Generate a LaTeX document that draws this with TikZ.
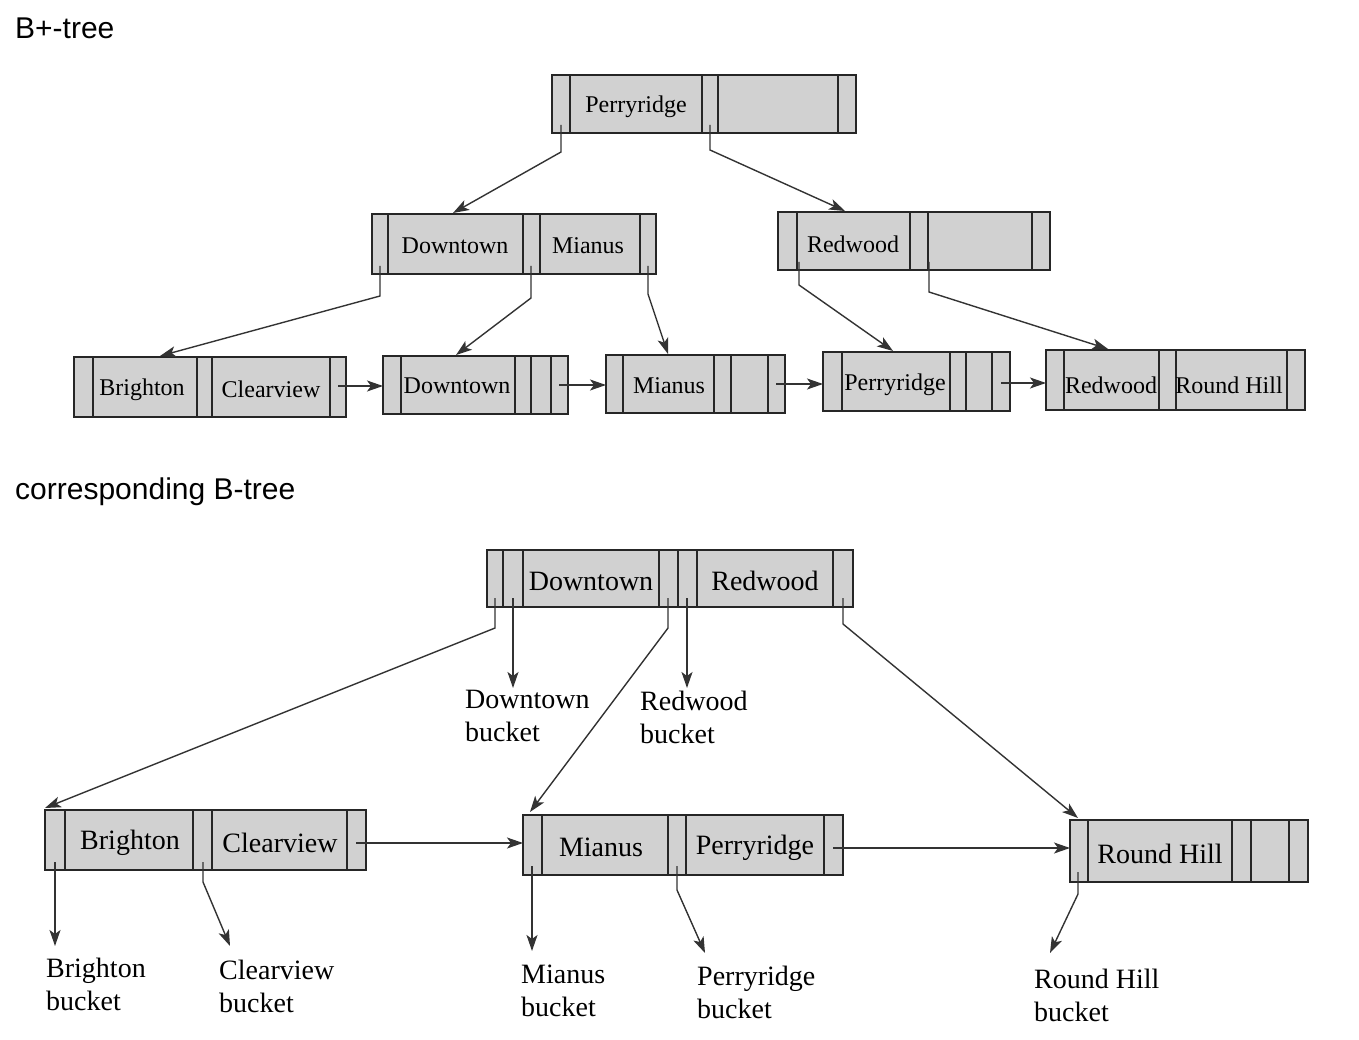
\documentclass[tikz,border=0pt]{standalone}
\usepackage{fontspec}
\setmainfont{Liberation Serif}
\newfontfamily\titlefont{Liberation Sans}
\usetikzlibrary{arrows.meta}
\tikzset{
 boxst/.style={draw=black!85, fill=black!18, line width=1.7pt, inner sep=0pt, outer sep=0pt},
 divst/.style={draw=black!85, line width=1.5pt},
 ptr/.style={draw=black!80, line width=1.4pt, -{Stealth[length=16pt,width=11pt,inset=4pt]}},
 keyB/.style={font=\fontsize{24}{28}\selectfont, inner sep=0pt},
 keyT/.style={font=\fontsize{28}{32}\selectfont, inner sep=0pt},
 lbl/.style={font=\fontsize{28}{33}\selectfont, align=left, anchor=north west, inner sep=0pt},
 ttl/.style={font=\titlefont\fontsize{30}{34}\selectfont, anchor=west, inner sep=0pt},
}
\newcommand\tbox[6]{%
 \node[boxst, anchor=north west, minimum width={(#4-#2)*1pt}, minimum height={(#5-#3)*1pt}] (#1) at (#2,#3) {};
 \foreach \d in {#6} {\draw[divst] (\d,#3) -- (\d,#5);}
}
\begin{document}
\begin{tikzpicture}[x=1pt,y=-1pt]
\useasboundingbox[fill=white] (0,0) rectangle (1359,1040);
% titles
\node[ttl] (t1) at (15,28) {B+-tree};
\node[ttl] (t2) at (15,492) {corresponding B-tree};
% ---------- B+-tree ----------
\tbox{root}{552}{75}{856}{133}{570,702,718,838}
\tbox{la}{372}{214}{656}{274}{388,523,540,640}
\tbox{lb}{778}{212}{1050}{270}{797,910,928,1032}
\tbox{fa}{74}{357}{346}{417}{93,197,212,330}
\tbox{fb}{383}{356}{568}{414}{401,515,531,551}
\tbox{fc}{606}{355}{785}{413}{623,714,731,768}
\tbox{fd}{823}{352}{1010}{411}{842,950,966,992}
\tbox{fe}{1046}{350}{1305}{410}{1064,1159,1176,1287}
\node[keyB] (k1) at (636,107) {Perryridge};
\node[keyB] (k2) at (455,246) {Downtown};
\node[keyB] (k3) at (588,246) {Mianus};
\node[keyB] (k4) at (853,244) {Redwood};
\node[keyB] (k5) at (142,390) {Brighton};
\node[keyB] (k6) at (271,389) {Clearview};
\node[keyB] (k7) at (457,386) {Downtown};
\node[keyB] (k8) at (669,386) {Mianus};
\node[keyB] (k9) at (895,385) {Perryridge};
\node[keyB] (k10) at (1111,385) {Redwood};
\node[keyB] (k11) at (1229,385) {Round Hill};
% pointer sources and targets
\coordinate (rp1) at (561,125); \coordinate (rp2) at (710,125);
\coordinate (lap1) at (380,266); \coordinate (lap2) at (531,266); \coordinate (lap3) at (648,266);
\coordinate (lbp1) at (799,262); \coordinate (lbp2) at (929,262);
\coordinate (laT) at (453,213); \coordinate (lbT) at (845,211);
\coordinate (faT) at (160,356); \coordinate (fbT) at (456,355); \coordinate (fcT) at (668,354);
\coordinate (fdT) at (893,351); \coordinate (feT) at (1108,349);
\coordinate (fap) at (338,386); \coordinate (fbp) at (559,385); \coordinate (fcp) at (776,384); \coordinate (fdp) at (1001,383);
\draw[ptr] (rp1) -- ++(0,27) -- (laT);
\draw[ptr] (rp2) -- ++(0,25) -- (lbT);
\draw[ptr] (lap1) -- ++(0,30) -- (faT);
\draw[ptr] (lap2) -- ++(0,32) -- (fbT);
\draw[ptr] (lap3) -- ++(0,28) -- (fcT);
\draw[ptr] (lbp1) -- ++(0,23) -- (fdT);
\draw[ptr] (lbp2) -- ++(0,30) -- (feT);
\draw[ptr] (fap) -- (fb.west |- fap);
\draw[ptr] (fbp) -- (fc.west |- fbp);
\draw[ptr] (fcp) -- (fd.west |- fcp);
\draw[ptr] (fdp) -- (fe.west |- fdp);
% ---------- B-tree ----------
\tbox{broot}{487}{550}{853}{607}{503,523,659,678,697,833}
\tbox{ba}{45}{810}{366}{870}{65,193,212,347}
\tbox{bb}{523}{815}{843}{875}{542,668,686,824}
\tbox{bc}{1070}{820}{1308}{882}{1088,1232,1251,1289}
\node[keyT] (m1) at (591,581) {Downtown};
\node[keyT] (m2) at (765,581) {Redwood};
\node[keyT] (m3) at (130,843) {Brighton};
\node[keyT] (m4) at (280,843) {Clearview};
\node[keyT] (m5) at (601,847) {Mianus};
\node[keyT] (m6) at (755,848) {Perryridge};
\node[keyT] (m7) at (1160,854) {Round Hill};
% bucket labels
\node[lbl] (b1) at (465,690) {Downtown\\bucket};
\node[lbl] (b2) at (640,691) {Redwood\\bucket};
\node[lbl] (b3) at (46,958) {Brighton\\bucket};
\node[lbl] (b4) at (219,960) {Clearview\\bucket};
\node[lbl] (b5) at (521,965) {Mianus\\bucket};
\node[lbl] (b6) at (697,966) {Perryridge\\bucket};
\node[lbl] (b7) at (1034,969) {Round Hill\\bucket};
% B-tree pointers
\coordinate (q1) at (495,598); \coordinate (q2) at (513,598); \coordinate (q3) at (668,598);
\coordinate (q4) at (687,598); \coordinate (q5) at (843,598);
\coordinate (baT) at (45,808); \coordinate (bbT) at (530,812); \coordinate (bcT) at (1078,818);
\coordinate (d1) at (513,688); \coordinate (d2) at (687,688);
\draw[ptr] (q1) -- ++(0,30) -- (baT);
\draw[ptr] (q2) -- (d1);
\draw[ptr] (q3) -- ++(0,30) -- (bbT);
\draw[ptr] (q4) -- (d2);
\draw[ptr] (q5) -- ++(0,26) -- (bcT);
\coordinate (s1) at (55,862); \coordinate (s2) at (203,862);
\coordinate (s3) at (532,866); \coordinate (s4) at (677,866);
\coordinate (s5) at (1078,872);
\coordinate (e1) at (55,946); \coordinate (e2) at (230,946);
\coordinate (e3) at (532,951); \coordinate (e4) at (705,953); \coordinate (e5) at (1050,953);
\draw[ptr] (s1) -- (e1);
\draw[ptr] (s2) -- ++(0,20) -- (e2);
\draw[ptr] (s3) -- (e3);
\draw[ptr] (s4) -- ++(0,24) -- (e4);
\draw[ptr] (s5) -- ++(0,22) -- (e5);
\coordinate (h1) at (356,843); \coordinate (h2) at (833,848);
\draw[ptr] (h1) -- (bb.west |- h1);
\draw[ptr] (h2) -- (bc.west |- h2);
\end{tikzpicture}
\end{document}
